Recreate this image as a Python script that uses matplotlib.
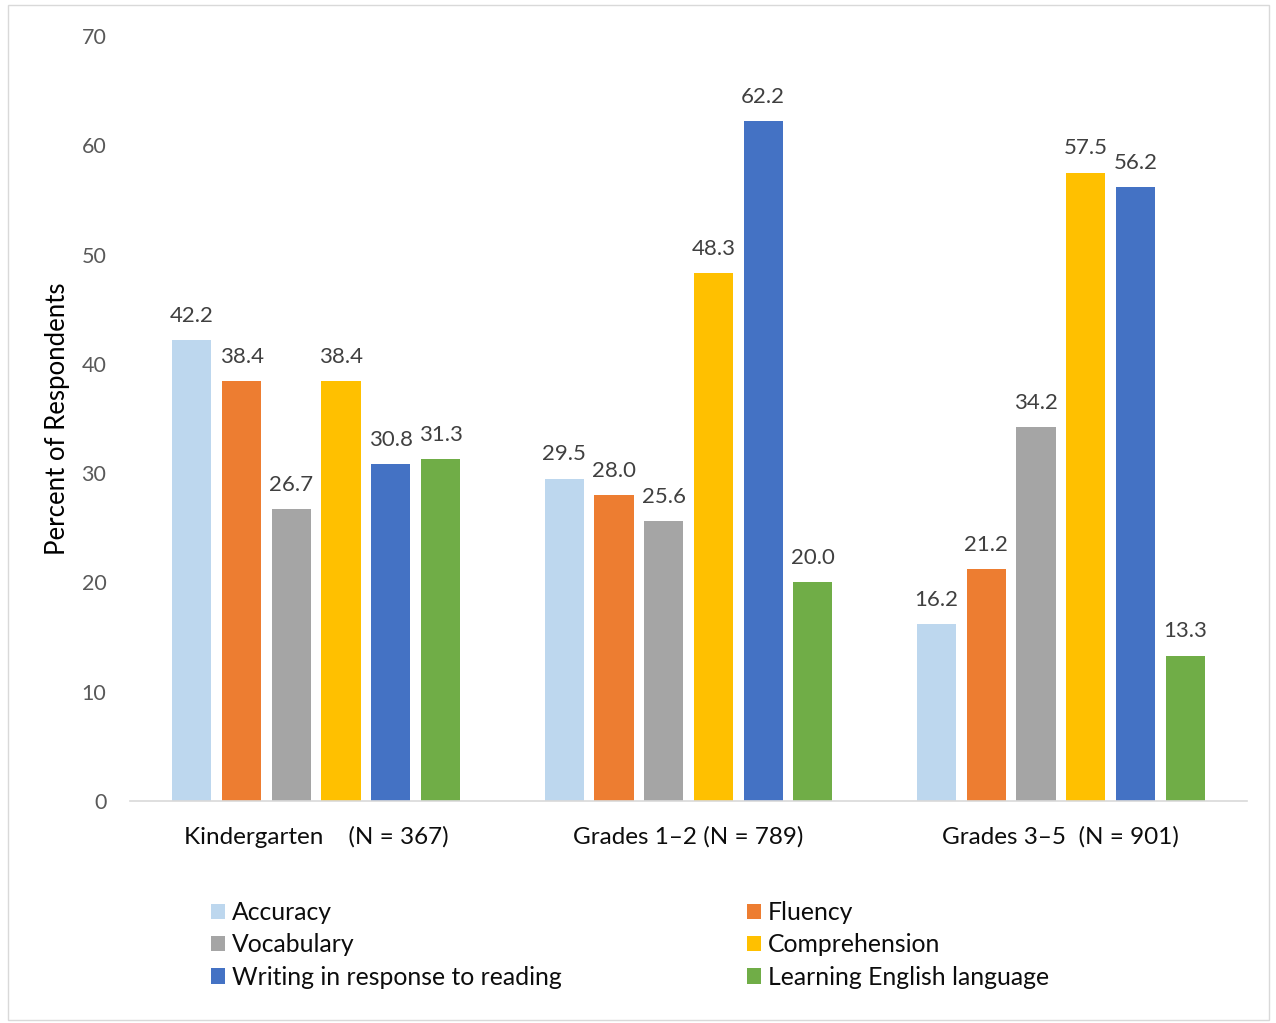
import matplotlib.pyplot as plt
import numpy as np
from matplotlib.patches import Rectangle

plt.rcParams['font.family'] = ['Lato', 'DejaVu Sans']

groups = ['Kindergarten    (N = 367)', 'Grades 1\u20132 (N = 789)', 'Grades 3\u20135  (N = 901)']
series = ['Accuracy', 'Fluency', 'Vocabulary', 'Comprehension',
          'Writing in response to reading', 'Learning English language']
colors = ['#BDD7EE', '#ED7D31', '#A5A5A5', '#FFC000', '#4472C4', '#70AD47']
accuracy = [42.2, 29.5, 16.2]
fluency = [38.4, 28.0, 21.2]
vocabulary = [26.7, 25.6, 34.2]
comprehension = [38.4, 48.3, 57.5]
writing = [30.8, 62.2, 56.2]
english = [31.3, 20.0, 13.3]
values = [accuracy, fluency, vocabulary, comprehension, writing, english]

fig = plt.figure(figsize=(12.76, 10.23), dpi=100)
ax = fig.add_axes([0.1019, 0.2170, 0.8754, 0.7478])

x = np.arange(len(groups))
step = 0.1335
width = 0.105
handles = []
for i, (name, vals, c) in enumerate(zip(series, values, colors)):
    pos = x + (i - 2.5) * step
    bars = ax.bar(pos, vals, width, color=c, label=name)
    handles.append(bars)
    for p, v in zip(pos, vals):
        ax.text(p, v + 1.3, f'{v:.1f}', ha='center', va='bottom',
                fontsize=16, color='#404040')

ax.set_xlim(-0.5, 2.5)
ax.set_ylim(0, 70)
ax.set_yticks(range(0, 71, 10))
ax.set_xticks(x)
ax.set_xticklabels(groups, fontsize=17.5, color='#0d0d0d')
ax.tick_params(axis='y', length=0, labelsize=15.5, labelcolor='#595959', pad=17)
ax.tick_params(axis='x', length=0, pad=18)
for s in ['top', 'right', 'left']:
    ax.spines[s].set_visible(False)
ax.spines['bottom'].set_color('#D9D9D9')
ax.spines['bottom'].set_linewidth(1.2)
fig.text(58 / 1276, 0.5904, 'Percent of Respondents', rotation=90,
         ha='center', va='center', fontsize=18.5, color='#000000')

order = [0, 2, 4, 1, 3, 5]
leg = fig.legend([handles[i] for i in order], [series[i] for i in order],
                 ncol=2, loc='upper left', bbox_to_anchor=(0.1575, 0.129),
                 borderaxespad=0, frameon=False, fontsize=17.8,
                 handlelength=0.57, handleheight=0.57,
                 handletextpad=0.28, labelspacing=0.38, columnspacing=7.5)
for t in leg.get_texts():
    t.set_color('#0d0d0d')

fig.add_artist(Rectangle((0.006, 0.003), 0.9885, 0.9925, transform=fig.transFigure,
                         fill=False, edgecolor='#D9D9D9', linewidth=1))

fig.savefig('out.png', dpi=100)
